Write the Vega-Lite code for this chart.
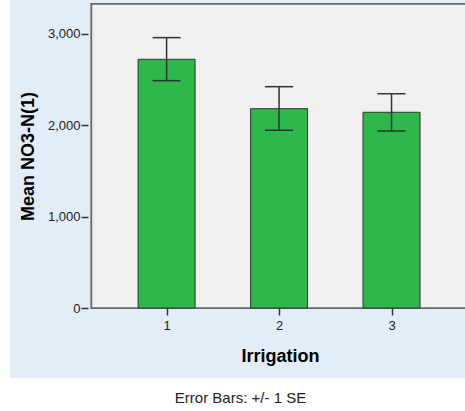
{
  "$schema": "https://vega.github.io/schema/vega-lite/v6.json",
  "width": 455,
  "height": 378,
  "autosize": {"type": "none"},
  "padding": {"left": 10, "top": 0, "right": 0, "bottom": 33},
  "background": "#ffffff",
  "title": {
    "text": "Error Bars: +/- 1 SE",
    "orient": "bottom",
    "anchor": "middle",
    "frame": "group",
    "font": "Liberation Sans",
    "fontSize": 15,
    "fontWeight": "normal",
    "color": "#222222",
    "offset": 13,
    "dx": 3
  },
  "data": {
    "values": [
      {"irrigation": 1, "mean": 2723, "lower": 2489, "upper": 2960},
      {"irrigation": 2, "mean": 2182, "lower": 1946, "upper": 2423},
      {"irrigation": 3, "mean": 2143, "lower": 1938, "upper": 2346}
    ]
  },
  "layer": [
    {
      "data": {"values": [{}]},
      "mark": {"type": "rect", "fill": "#f0f0f0", "stroke": "#666666", "strokeWidth": 1.8},
      "encoding": {
        "x": {"datum": 0.3304, "type": "quantitative", "scale": {"domain": [-0.3478, 3.6087], "nice": false, "zero": false}},
        "x2": {"datum": 3.7},
        "y": {"datum": 0, "type": "quantitative", "scale": {"domain": [-766, 3372], "nice": false, "zero": false}},
        "y2": {"datum": 3329}
      }
    },
    {
      "mark": {"type": "bar", "orient": "vertical", "size": 57, "fill": "#2eb74b", "stroke": "#333333", "strokeWidth": 1},
      "encoding": {
        "x": {
          "field": "irrigation", "type": "quantitative",
          "scale": {"domain": [-0.3478, 3.6087], "nice": false, "zero": false},
          "axis": {
            "values": [1, 2, 3], "format": "d", "offset": -70, "domain": false, "grid": false,
            "tickSize": 7, "tickColor": "#333333", "tickWidth": 1.5,
            "labelFont": "Liberation Sans", "labelFontSize": 13, "labelColor": "#222222", "labelPadding": 4,
            "title": "Irrigation", "titleFont": "Liberation Sans", "titleFontSize": 18, "titleFontWeight": "bold", "titleColor": "#000000",
            "titleX": 270, "titleY": 53, "titleAlign": "center", "titleBaseline": "alphabetic"
          }
        },
        "y": {
          "field": "mean", "type": "quantitative",
          "scale": {"domain": [-766, 3372], "nice": false, "zero": false},
          "axis": {
            "values": [0, 1000, 2000, 3000], "format": ",d", "offset": -78, "domain": false, "grid": false,
            "tickSize": 7, "tickColor": "#333333", "tickWidth": 1.5,
            "labelFont": "Liberation Sans", "labelFontSize": 13, "labelColor": "#222222", "labelPadding": 1,
            "title": "Mean NO3-N(1)", "titleFont": "Liberation Sans", "titleFontSize": 18, "titleFontWeight": "bold", "titleColor": "#000000",
            "titleX": -60, "titleY": 156, "titleAngle": -90, "titleAlign": "center", "titleBaseline": "middle"
          }
        },
        "y2": {"datum": 0}
      }
    },
    {
      "mark": {"type": "rule", "color": "#333333", "strokeWidth": 1.5},
      "encoding": {
        "x": {"field": "irrigation", "type": "quantitative", "scale": {"domain": [-0.3478, 3.6087], "nice": false, "zero": false}},
        "y": {"field": "lower", "type": "quantitative", "scale": {"domain": [-766, 3372], "nice": false, "zero": false}},
        "y2": {"field": "upper"}
      }
    },
    {
      "mark": {"type": "tick", "orient": "horizontal", "size": 28, "thickness": 1.5, "color": "#333333", "opacity": 1},
      "encoding": {
        "x": {"field": "irrigation", "type": "quantitative", "scale": {"domain": [-0.3478, 3.6087], "nice": false, "zero": false}},
        "y": {"field": "upper", "type": "quantitative", "scale": {"domain": [-766, 3372], "nice": false, "zero": false}}
      }
    },
    {
      "mark": {"type": "tick", "orient": "horizontal", "size": 28, "thickness": 1.5, "color": "#333333", "opacity": 1},
      "encoding": {
        "x": {"field": "irrigation", "type": "quantitative", "scale": {"domain": [-0.3478, 3.6087], "nice": false, "zero": false}},
        "y": {"field": "lower", "type": "quantitative", "scale": {"domain": [-766, 3372], "nice": false, "zero": false}}
      }
    }
  ],
  "config": {
    "view": {"fill": "#e3edf9", "stroke": null},
    "axis": {"grid": false}
  }
}
